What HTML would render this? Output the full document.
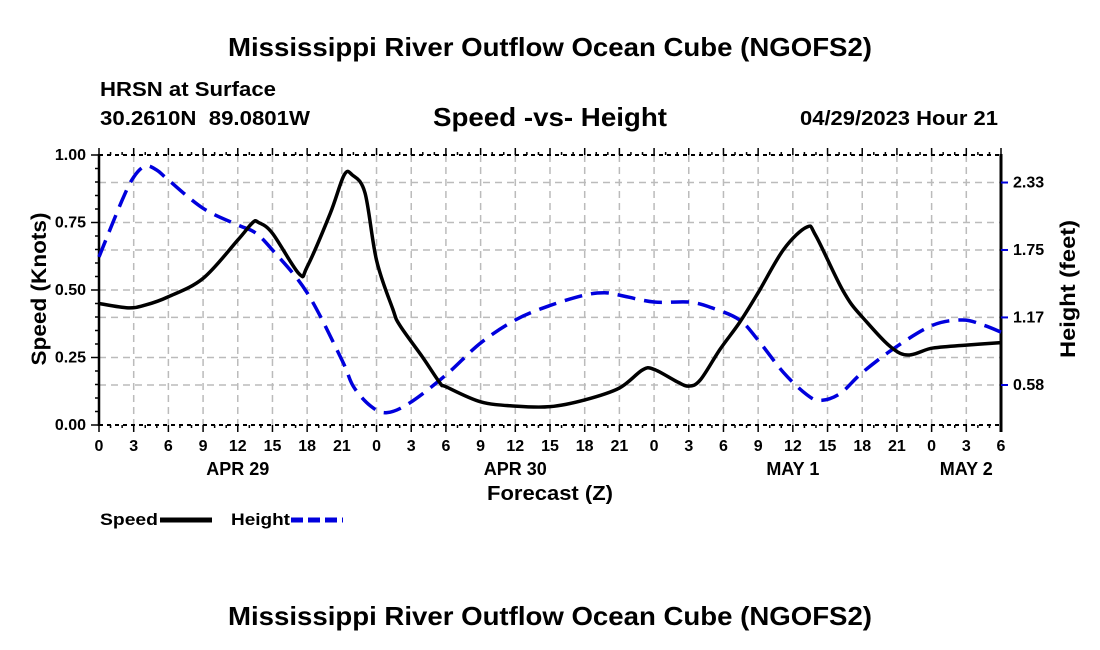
<!DOCTYPE html>
<html><head><meta charset="utf-8"><style>
body{margin:0;background:#fff;}
svg{display:block;font-family:"Liberation Sans",Arial,sans-serif;font-weight:bold;}
</style></head><body>
<svg id="chart" width="1100" height="650" viewBox="0 0 1100 650" xmlns="http://www.w3.org/2000/svg">
<rect width="1100" height="650" fill="#fff"/>
<text x="228" y="56" font-size="26" textLength="644" lengthAdjust="spacingAndGlyphs">Mississippi River Outflow Ocean Cube (NGOFS2)</text>
<text x="100" y="96" font-size="20" textLength="176" lengthAdjust="spacingAndGlyphs">HRSN at Surface</text>
<text x="100" y="125" font-size="20" textLength="210" lengthAdjust="spacingAndGlyphs" xml:space="preserve">30.2610N  89.0801W</text>
<text x="433" y="126" font-size="26" textLength="234" lengthAdjust="spacingAndGlyphs">Speed -vs- Height</text>
<text x="800" y="125" font-size="20" textLength="198" lengthAdjust="spacingAndGlyphs">04/29/2023 Hour 21</text>
<g id="grid"></g>
<g id="axes"></g>
<g id="series"></g>
<text transform="translate(46,289) rotate(-90)" font-size="21" text-anchor="middle" textLength="153" lengthAdjust="spacingAndGlyphs">Speed (Knots)</text>
<text transform="translate(1075,289) rotate(-90)" font-size="21" text-anchor="middle" textLength="138" lengthAdjust="spacingAndGlyphs">Height (feet)</text>
<text x="487" y="500" font-size="20" textLength="126" lengthAdjust="spacingAndGlyphs">Forecast (Z)</text>
<g>
<text x="100" y="525" font-size="17" textLength="58" lengthAdjust="spacingAndGlyphs">Speed</text>
<line x1="160" y1="520" x2="212" y2="520" stroke="#000" stroke-width="5"/>
<text x="231" y="525" font-size="17" textLength="59" lengthAdjust="spacingAndGlyphs">Height</text>
<line x1="291" y1="520" x2="343" y2="520" stroke="#0000dd" stroke-width="5" stroke-dasharray="12,5"/>
</g>
<text x="228" y="625" font-size="26" textLength="644" lengthAdjust="spacingAndGlyphs">Mississippi River Outflow Ocean Cube (NGOFS2)</text>
</svg>
<script>
const speedHours=[0,2.5,4,6,9,12,13.3,13.8,15,17.3,18,20,21.2,21.9,23,24,25.4,26,28,29.5,30,33,36,39,42,45,47,48,50,51,52,53.7,55.4,57,59.2,61.2,62,64.3,66,69.3,72.1,75,78];
const speedValues=[0.45,0.434,0.444,0.475,0.543,0.685,0.75,0.75,0.71,0.56,0.586,0.784,0.926,0.926,0.86,0.61,0.43,0.37,0.25,0.155,0.142,0.086,0.07,0.068,0.093,0.137,0.204,0.206,0.16,0.144,0.167,0.28,0.38,0.49,0.65,0.733,0.70,0.50,0.40,0.265,0.285,0.296,0.305];
const heightHours=[0,2,3,4,5,6,9,12,13.5,15,18,21,22,23.5,24.9,26.9,30,33,36,39,42,43.7,45,48,51,53,55.4,57,59.2,61.2,62.4,64.1,66,68.9,72.1,74.7,76.5,78];
const heightValues=[1.69,2.18,2.38,2.475,2.44,2.355,2.11,1.966,1.90,1.75,1.38,0.80,0.57,0.40,0.344,0.43,0.67,0.946,1.145,1.27,1.36,1.38,1.36,1.30,1.30,1.25,1.145,0.97,0.69,0.50,0.45,0.51,0.69,0.91,1.10,1.145,1.10,1.04];
const xTickLabels=['0','3','6','9','12','15','18','21','0','3','6','9','12','15','18','21','0','3','6','9','12','15','18','21','0','3','6'];
const speedTicks=[0,0.25,0.5,0.75,1.0];
const speedTickLabels=['0.00','0.25','0.50','0.75','1.00'];
const heightTicks=[0.583,1.167,1.75,2.333];
const heightTickLabels=['0.58','1.17','1.75','2.33'];
const dateLabels=['APR 29','APR 30','MAY 1','MAY 2'];
const dateHours=[12,36,60,75];

const X0=99,X1=1001,Y0=425,Y1=155,HMAX=78;
const xs=h=>X0+(X1-X0)*h/HMAX;
const ys=v=>Y0+(Y1-Y0)*v/1.0;
const yh=f=>385-(f-0.583)*115.7;
const NS='http://www.w3.org/2000/svg';
function mk(tag,parent,attrs){const e=document.createElementNS(NS,tag);for(const k in attrs)e.setAttribute(k,attrs[k]);parent.appendChild(e);return e;}
const grid=document.getElementById('grid'),axes=document.getElementById('axes'),series=document.getElementById('series');
for(let i=1;i<xTickLabels.length-1;i++){const x=xs(i*3);
 const l=mk('line',grid,{x1:x,y1:Y1,x2:x,y2:Y0,stroke:'#bbb','stroke-width':1.5,'stroke-dasharray':'7,5'});
 
 }
speedTicks.slice(1,4).forEach(v=>{const y=ys(v);const l=mk('line',grid,{x1:X0,y1:y,x2:X1,y2:y,stroke:'#bbb','stroke-width':1.5,'stroke-dasharray':'7,5'});
 
 });
heightTicks.forEach(v=>{const y=yh(v);const l=mk('line',grid,{x1:X0,y1:y,x2:X1,y2:y,stroke:'#bbb','stroke-width':1.5,'stroke-dasharray':'7,5'});
 
 });
const b=mk('line',axes,{x1:X0,y1:Y0,x2:X1,y2:Y0,stroke:'#000','stroke-width':2,'stroke-dasharray':'4,4'});


const t=mk('line',axes,{x1:X0,y1:Y1,x2:X1,y2:Y1,stroke:'#000','stroke-width':2,'stroke-dasharray':'4,4'});


const la=mk('line',axes,{x1:X0,y1:Y1-1,x2:X0,y2:Y0+1,stroke:'#000','stroke-width':2.5});


const ra=mk('line',axes,{x1:X1,y1:Y1-1,x2:X1,y2:Y0+7,stroke:'#000','stroke-width':3});


for(let h=0;h<=HMAX;h++){const x=xs(h);const major=h%3===0;
 mk('line',axes,{x1:x,y1:Y0,x2:x,y2:Y0+(major?7:3),stroke:'#000','stroke-width':1.5});
 mk('line',axes,{x1:x,y1:Y1,x2:x,y2:Y1-(major?7:3),stroke:'#000','stroke-width':1.5});}
xTickLabels.forEach((s,i)=>{const tx=mk('text',axes,{x:xs(i*3),y:451,'font-size':16,'text-anchor':'middle'});tx.textContent=s;
 
 });
dateLabels.forEach((s,i)=>{const tx=mk('text',axes,{x:xs(dateHours[i]),y:475,'font-size':18,'text-anchor':'middle'});tx.textContent=s;
 
 });
for(let k=0;k<=20;k++){const y=ys(k*0.05);const major=k%5===0;
 mk('line',axes,{x1:X0-(major?8:4),y1:y,x2:X0,y2:y,stroke:'#000','stroke-width':1.5});}
speedTicks.forEach((v,i)=>{const tx=mk('text',axes,{x:86,y:ys(v)+5,'font-size':16,'text-anchor':'end'});tx.textContent=speedTickLabels[i];
 
 });
heightTicks.forEach((v,i)=>{const y=yh(v);mk('line',axes,{x1:X1,y1:y,x2:X1+7,y2:y,stroke:'#0000dd','stroke-width':2});
 const tx=mk('text',axes,{x:1013,y:y+5,'font-size':16});tx.textContent=heightTickLabels[i];
 
 });
function path(px,py){let d=`M${px[0]},${py[0]}`;for(let i=0;i<px.length-1;i++){
 const x0=px[Math.max(i-1,0)],y0=py[Math.max(i-1,0)],x1=px[i],y1=py[i],x2=px[i+1],y2=py[i+1],x3=px[Math.min(i+2,px.length-1)],y3=py[Math.min(i+2,px.length-1)];
 d+=` C${x1+(x2-x0)/6},${y1+(y2-y0)/6} ${x2-(x3-x1)/6},${y2-(y3-y1)/6} ${x2},${y2}`;}return d;}
const hp=mk('path',series,{d:path(heightHours.map(xs),heightValues.map(yh)),fill:'none',stroke:'#0000dd','stroke-width':3.5,'stroke-dasharray':'18,9'});


const sp=mk('path',series,{d:path(speedHours.map(xs),speedValues.map(ys)),fill:'none',stroke:'#000','stroke-width':3.5,'stroke-linejoin':'round'});


</script>
</body></html>
